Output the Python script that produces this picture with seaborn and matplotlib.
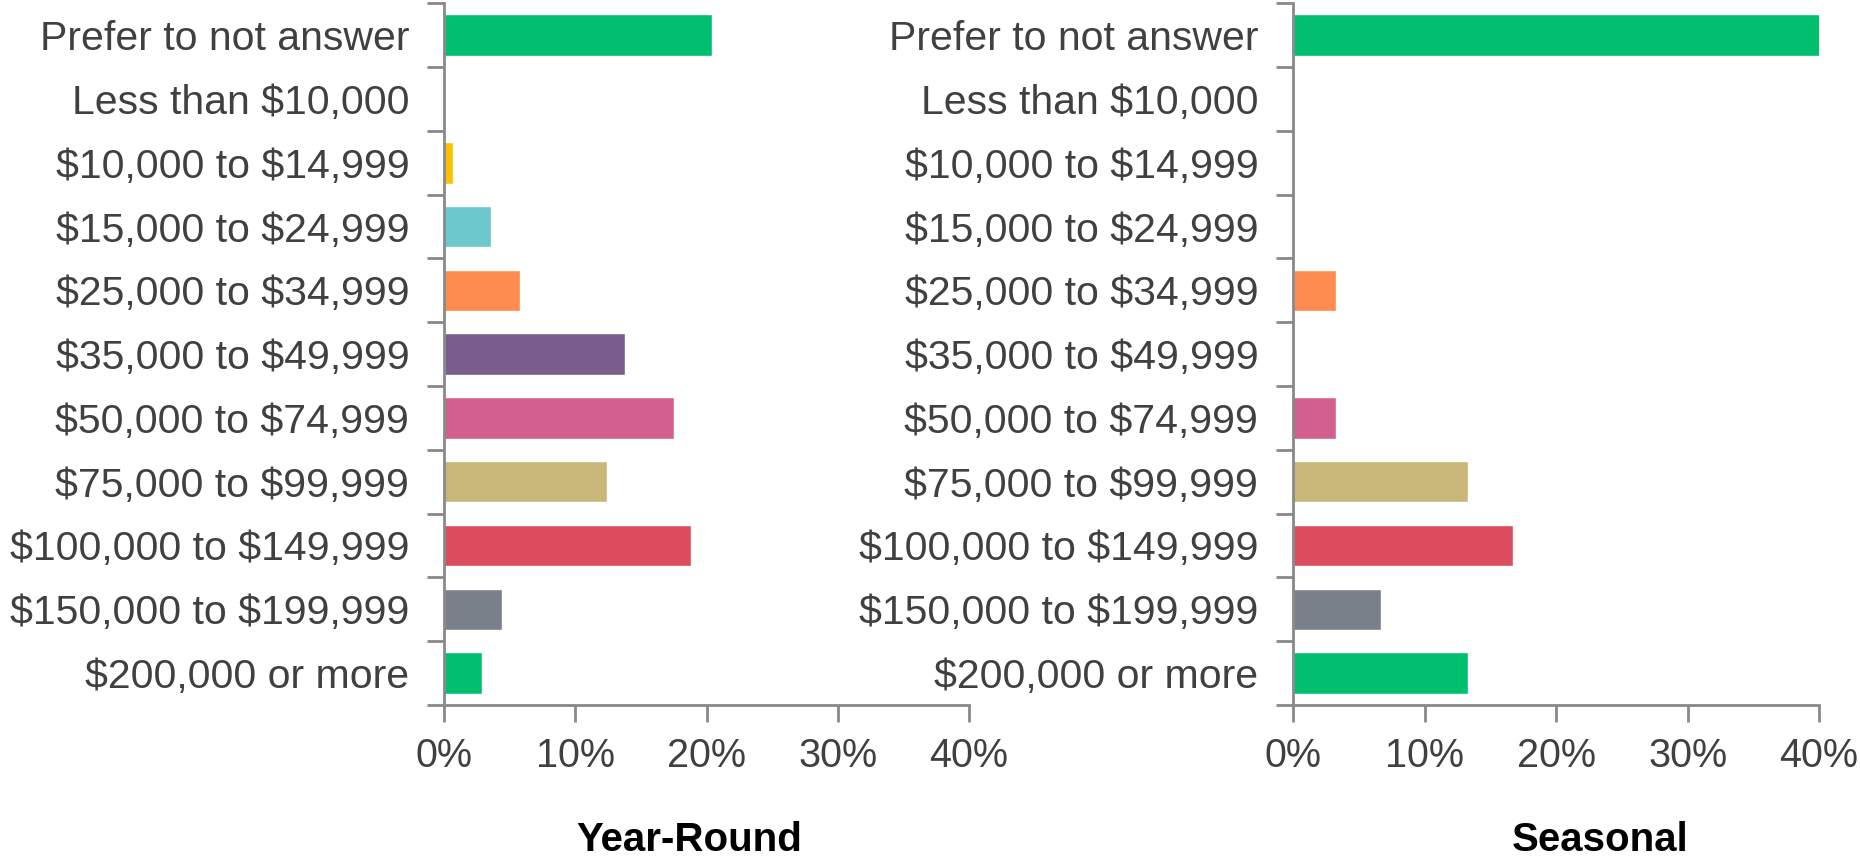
import numpy as np
import pandas as pd
import matplotlib.pyplot as plt
import seaborn as sns
from matplotlib.ticker import FixedLocator

sns.set_style('white')
plt.rcParams['font.family'] = ['Liberation Sans', 'DejaVu Sans']
plt.rcParams['text.parse_math'] = False

# income brackets, top to bottom as shown
categories = ['Prefer to not answer', 'Less than $10,000', '$10,000 to $14,999',
              '$15,000 to $24,999', '$25,000 to $34,999', '$35,000 to $49,999',
              '$50,000 to $74,999', '$75,000 to $99,999', '$100,000 to $149,999',
              '$150,000 to $199,999', '$200,000 or more']

# share of respondents (%)
year_round = [20.4, 0.0, 0.7, 3.6, 5.8, 13.8, 17.5, 12.4, 18.8, 4.4, 2.9]
seasonal = [40.2, 0.0, 0.0, 0.0, 3.3, 0.0, 3.3, 13.3, 16.7, 6.7, 13.3]

panel_titles = ['Year-Round', 'Seasonal']
x_ticks = [0, 10, 20, 30, 40]
x_ticklabels = ['0%', '10%', '20%', '30%', '40%']

bar_colors = ['#00BF6F', '#FFFFFF', '#FFC000', '#6CC8CC', '#FF8C4F', '#7B5E8E',
              '#D35F8F', '#C8B778', '#DB4C5E', '#79808A', '#00BF6F']

grey = '#898989'
label_col = '#404040'

fig = plt.figure(figsize=(18.6, 8.56), dpi=100)
ax_left = fig.add_axes([0.2387, 0.1765, 0.2823, 0.8196])
ax_right = fig.add_axes([0.6952, 0.1765, 0.2828, 0.8196])

for ax, vals in [(ax_left, year_round), (ax_right, seasonal)]:
    df = pd.DataFrame({'cat': categories, 'pct': vals})
    sns.barplot(data=df, y='cat', x='pct', hue='cat', palette=bar_colors,
                orient='h', width=0.65, legend=False, saturation=1, ax=ax)
    n = len(categories)
    ax.set_ylim(n - 0.5, -0.5)
    ax.set_xlim(0, 40)
    ax.set_xlabel('')
    ax.set_ylabel('')

    ax.set_xticks(x_ticks)
    ax.set_xticklabels(x_ticklabels)
    ax.set_yticks(np.arange(n))
    ax.set_yticklabels(categories)
    ax.yaxis.set_minor_locator(FixedLocator(np.arange(-0.5, n, 1.0)))

    ax.tick_params(axis='y', which='major', length=0, pad=25,
                   labelsize=29.5, labelcolor=label_col)
    ax.tick_params(axis='y', which='minor', length=12, width=2, color=grey,
                   direction='out', left=True)
    ax.tick_params(axis='x', which='major', length=12, width=2, color=grey,
                   direction='out', bottom=True, pad=11,
                   labelsize=28.5, labelcolor=label_col)

    for side in ['top', 'right']:
        ax.spines[side].set_visible(False)
    for side in ['left', 'bottom']:
        ax.spines[side].set_color(grey)
        ax.spines[side].set_linewidth(2)
    ax.grid(False)

fig.text(689 / 1860, 0.006, panel_titles[0], ha='center', va='baseline',
         fontsize=29, fontweight='bold', color='black')
fig.text(1600 / 1860, 0.006, panel_titles[1], ha='center', va='baseline',
         fontsize=29, fontweight='bold', color='black')

plt.savefig('out.png', dpi=100, facecolor='white')
plt.close()
